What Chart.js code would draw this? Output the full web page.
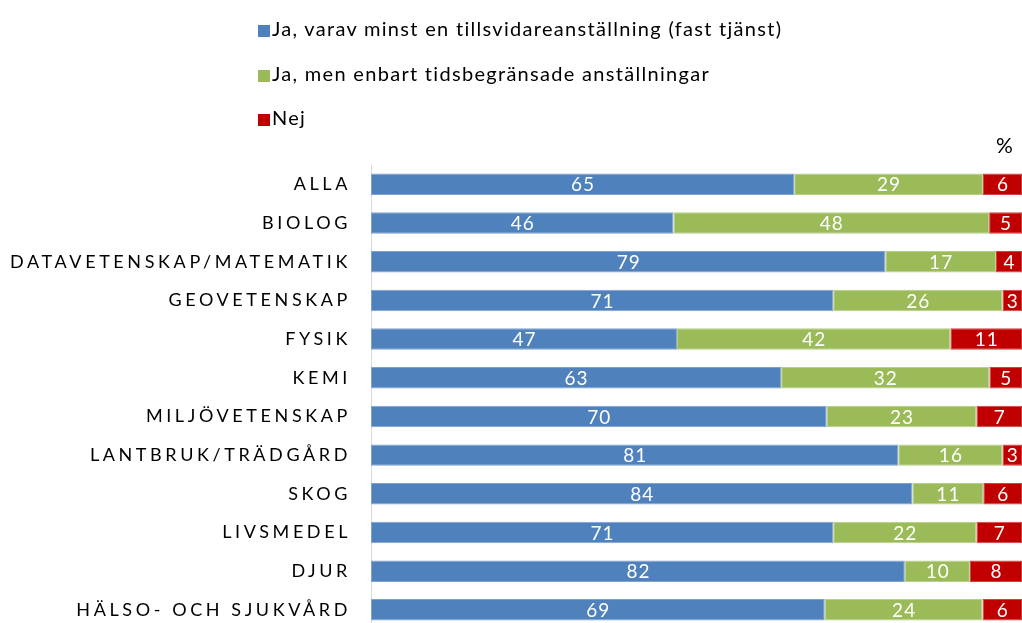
<!DOCTYPE html>
<html>
<head>
<meta charset="utf-8">
<script src="https://cdn.jsdelivr.net/npm/chart.js@4.4.1/dist/chart.umd.min.js"></script>
<style>
  html, body { margin: 0; padding: 0; background: #fff; overflow: hidden; }
  #wrap { position: relative; width: 1022px; height: 660px; }
  #chart { position: absolute; left: 0; top: 0; }
  .legend { position: absolute; left: 258px; font-family: Lato, sans-serif; font-size: 20px; letter-spacing: 1.3px; color: #000; }
  .legend div { position: absolute; white-space: nowrap; height: 24px; line-height: 24px; }
  .legend span.box { display: inline-block; width: 12px; height: 12px; margin-right: 2px; vertical-align: -1px; }
  #pct { position: absolute; left: 996px; top: 132px; font-family: Lato, sans-serif; font-size: 21px; }
</style>
</head>
<body>
<div id="wrap">
  <canvas id="chart" width="1022" height="660"></canvas>
  <div class="legend" id="legend"></div>
  <div id="pct">%</div>
</div>
<script>
const categories = ['ALLA', 'BIOLOG', 'DATAVETENSKAP/MATEMATIK', 'GEOVETENSKAP', 'FYSIK', 'KEMI',
    'MILJÖVETENSKAP', 'LANTBRUK/TRÄDGÅRD', 'SKOG', 'LIVSMEDEL', 'DJUR', 'HÄLSO- OCH SJUKVÅRD'];
const seriesNames = ['Ja, varav minst en tillsvidareanställning (fast tjänst)',
    'Ja, men enbart tidsbegränsade anställningar', 'Nej'];
const fastTjanst = [65, 46, 79, 71, 47, 63, 70, 81, 84, 71, 82, 69];
const tidsbegransad = [29, 48, 17, 26, 42, 32, 23, 16, 11, 22, 10, 24];
const nej = [6, 5, 4, 3, 11, 5, 7, 3, 6, 7, 8, 6];
const colors = ['#4F81BD', '#9BBB59', '#C00000'];
const borders = ['#7FA1CF', '#B7CF86', '#D24040'];

const raw = [fastTjanst, tidsbegransad, nej];
// 100% stacked, like the original
const totals = categories.map((c, i) => raw.reduce((s, arr) => s + arr[i], 0));

// legend (vertical, as in the original)
const legendEl = document.getElementById('legend');
seriesNames.forEach((name, i) => {
    const d = document.createElement('div');
    d.style.top = (16 + i * 44.5) + 'px';
    d.innerHTML = '<span class="box" style="background:' + colors[i] + '"></span>' + name;
    legendEl.appendChild(d);
});

const letterSpacingPlugin = {
    id: 'letterSpacing',
    beforeDraw(chart) { chart.ctx.letterSpacing = '3.6px'; },
    beforeDatasetsDraw(chart) { chart.ctx.letterSpacing = '0px'; }
};

const valueLabels = {
    id: 'valueLabels',
    afterDatasetsDraw(chart) {
        const ctx = chart.ctx;
        ctx.save();
        ctx.letterSpacing = '1px';
        ctx.fillStyle = '#fff';
        ctx.font = '19px Lato, sans-serif';
        ctx.textAlign = 'center';
        ctx.textBaseline = 'middle';
        chart.data.datasets.forEach((ds, di) => {
            chart.getDatasetMeta(di).data.forEach((bar, i) => {
                ctx.fillText(ds.rawValues[i], (bar.x + bar.base) / 2 + 0.5, bar.y + 1);
            });
        });
        ctx.restore();
    }
};

const ctx = document.getElementById('chart').getContext('2d');
const chart = new Chart(ctx, {
    type: 'bar',
    data: {
        labels: categories,
        datasets: raw.map((arr, k) => ({
            label: seriesNames[k],
            data: arr.map((v, i) => v / totals[i] * 100),
            rawValues: arr,
            backgroundColor: colors[k],
            borderColor: borders[k],
            borderWidth: 1,
            borderSkipped: false,
            categoryPercentage: 1,
            barPercentage: 0.555
        }))
    },
    options: {
        indexAxis: 'y',
        responsive: false,
        animation: false,
        layout: {
            padding: { top: 165, bottom: 5, left: 0, right: 0 }
        },
        plugins: {
            legend: { display: false },
            tooltip: { enabled: false }
        },
        scales: {
            x: {
                stacked: true,
                min: 0,
                max: 100,
                display: false
            },
            y: {
                stacked: true,
                afterFit: (scale) => { scale.width = 371; },
                grid: { display: false, drawTicks: false },
                border: { display: true, color: '#D9D9D9', width: 1 },
                ticks: {
                    color: '#000',
                    padding: 20,
                    font: { family: 'Lato, sans-serif', size: 18 }
                }
            }
        }
    },
    plugins: [letterSpacingPlugin, valueLabels]
});
</script>
</body>
</html>
